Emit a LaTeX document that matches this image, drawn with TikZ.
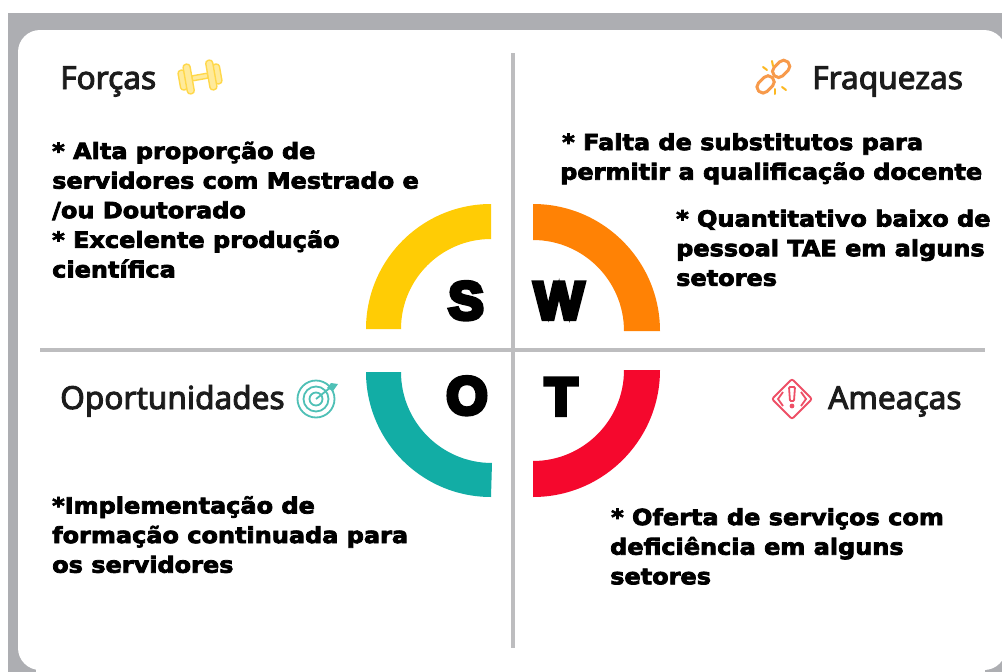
\documentclass[tikz,border=0pt]{standalone}
\usepackage{fontspec}
\setmainfont{Liberation Sans}
\newfontface\bodyfont{DejaVu Sans Bold}[FakeBold=3.5,FakeStretch=1.08]
\newfontface\headfont{Noto Sans}[FakeBold=3]
\newfontface\letterfont{Liberation Sans Bold}[FakeBold=8]
\definecolor{frame}{HTML}{ADAEB2}
\definecolor{rule}{HTML}{BDBDBF}
\definecolor{cyel}{HTML}{FFCC05}
\definecolor{corg}{HTML}{FF8205}
\definecolor{cteal}{HTML}{12ADA5}
\definecolor{cred}{HTML}{F5082D}
\definecolor{iyel}{HTML}{FFD84A}
\definecolor{iorg}{HTML}{F79A4B}
\definecolor{iteal}{HTML}{4FC0B6}
\definecolor{ired}{HTML}{EE4F66}
\definecolor{ink}{HTML}{1C1C1C}
\tikzset{
  body/.style={anchor=north west,inner sep=0pt,align=left,text=black,font=\bodyfont\fontsize{22.2}{29.6}\selectfont},
  head/.style={anchor=base west,inner sep=0pt,text=ink,font=\headfont\fontsize{31.6}{32}\selectfont},
  letter/.style={anchor=base,inner sep=0pt,text=black,font=\letterfont\fontsize{53}{54}\selectfont},
  divider/.style={draw=rule,line width=3.5pt}
}
\begin{document}
\begin{tikzpicture}[x=1pt,y=-1pt]
\useasboundingbox (0,0) rectangle (1002,672);
\fill[white] (0,0) rectangle (1002,672);
\fill[frame] (8,13) rectangle (1002,672);
\fill[white,rounded corners=22pt] (18,30) rectangle (1006,670);
\fill[white] (36,668) rectangle (985,672);
% dividers
\draw[divider] (513,53) -- (513,648);
\draw[divider] (40,350) -- (985,350);
% arcs
\fill[cyel] (491,204) arc[start angle=270,end angle=180,radius=125] -- (401,329) arc[start angle=180,end angle=270,radius=90] -- cycle;
\fill[corg] (533,204) arc[start angle=270,end angle=360,radius=127] -- (624,331) arc[start angle=360,end angle=270,radius=91] -- cycle;
\fill[cteal] (491,497) arc[start angle=90,end angle=180,radius=125] -- (401,372) arc[start angle=180,end angle=90,radius=91] -- cycle;
\fill[cred] (533,497) arc[start angle=90,end angle=0,radius=127] -- (624,370) arc[start angle=0,end angle=90,radius=91] -- cycle;
% letters
\node[letter] (S) at (466,319) {S};
\node[letter] (W) at (559,319) {W};
\node[letter] (O) at (467,414) {O};
\node[letter] (T) at (561,415) {T};
% headings
\node[head] (forcas) at (60,89) {Forças};
\node[head] (fraquezas) at (812,89) {Fraquezas};
\node[head] (oportunidades) at (60,409) {Oportunidades};
\node[head] (ameacas) at (828,409) {Ameaças};
% body
\node[body] (b1) at (52,141.5) {* Alta proporção de\\servidores com Mestrado e\\/ou Doutorado\\* Excelente produção\\científica};
\node[body] (b2) at (560,133) {\hspace*{2pt}* Falta de substitutos para\\permitir a qualificação docente};
\node[body] (b3) at (676,209.5) {* Quantitativo baixo de\\pessoal TAE em alguns\\setores};
\node[body] (b4) at (52,496) {*Implementação de\\formação continuada para\\os servidores};
\node[body] (b5) at (610,508) {\hspace*{1pt}* Oferta de serviços com\\deficiência em alguns\\setores};
% dumbbell icon
\begin{scope}[shift={(200,77)},rotate=10,draw=iyel,fill=iyel!55,line width=1.4pt]
  \filldraw[rounded corners=1pt] (-8,-2.5) rectangle (8,2.5);
  \filldraw[rounded corners=3pt] (-21,-10) rectangle (-14,10);
  \filldraw[rounded corners=3pt] (-15,-15) rectangle (-8,15);
  \filldraw[rounded corners=3pt] (14,-10) rectangle (21,10);
  \filldraw[rounded corners=3pt] (8,-15) rectangle (15,15);
\end{scope}
% chain icon
\begin{scope}[shift={(773,77)},rotate=45,draw=iorg,line width=3pt]
  \draw[rounded corners=5.5pt] (-20,-6) rectangle (-1,6);
  \draw[rounded corners=5.5pt] (2,-6) rectangle (21,6);
\end{scope}
\begin{scope}[draw=cyel!60!iorg,line width=2pt,line cap=round]
  \draw (763,67) -- (767,70);
  \draw (772,61) -- (773,66);
  \draw (786,90) -- (782,87);
  \draw (775,94) -- (775,89);
\end{scope}
% target icon
\begin{scope}[draw=iteal,line width=1.8pt]
  \draw (316,399) circle[radius=18.5];
  \draw (316,399) circle[radius=12.5];
  \draw (316,399) circle[radius=6.5];
  \draw (316,399) -- (331,387);
  \fill[iteal] (327,388) -- (331,383) -- (338,384) -- (333,391) -- cycle;
\end{scope}
% warning icon
\begin{scope}[draw=ired,line width=1.8pt]
  \draw[rounded corners=2pt] (792,379) -- (812,399) -- (792,419) -- (772,399) -- cycle;
  \draw[rounded corners=1pt] (789,387) -- (795,387) -- (794,401) -- (790,401) -- cycle;
  \fill[ired] (792,406) circle[radius=2.4];
  \draw (783,392) -- (778,399) -- (783,406);
  \draw (801,392) -- (806,399) -- (801,406);
\end{scope}
\end{tikzpicture}
\end{document}
